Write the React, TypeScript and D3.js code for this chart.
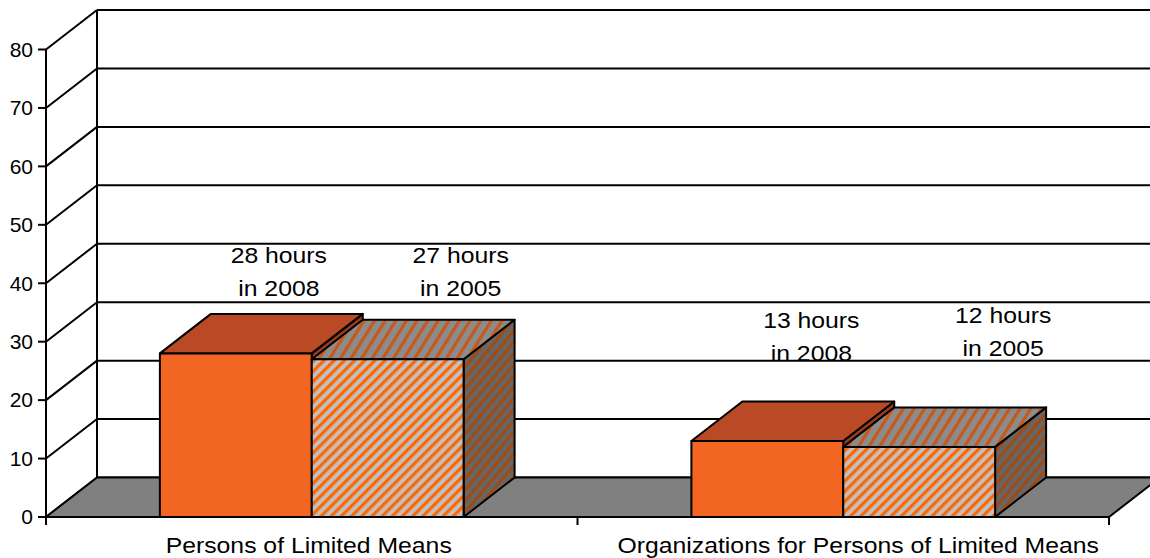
import * as d3 from 'd3'

// chart values
const categories = ['Persons of Limited Means', 'Organizations for Persons of Limited Means']
const seriesNames = ['2008', '2005']
const hours2008 = [28, 13]
const hours2005 = [27, 12]
const yTicks = [0, 10, 20, 30, 40, 50, 60, 70, 80]

// label nudges (Excel puts the 3D labels a bit off the bar centre)
const labelNudge = [
  [43, -90],
  [73, -96],
  [44, -113],
  [84, -124]
]
const catNudge = [-3, 15]

const W = 1150
const H = 558
const DX = 51
const DZ = 39.5
const FONT = 'Liberation Sans, Arial, sans-serif'
const STRETCH = 1.1

export default function App() {
  const x = d3.scaleBand<string>().domain(categories).range([46, 1109])
  const xs = d3.scaleBand<string>().domain(seriesNames).range([0, x.bandwidth()]).paddingOuter(0.75)
  const y = d3.scaleLinear().domain([0, 80]).range([517, 49.5])
  const bw = xs.bandwidth()
  const y0 = y(0)
  const left = x.range()[0]
  const right = x.range()[1]

  const bars = categories.flatMap((c, ci) =>
    seriesNames.map((s, si) => {
      const v = si === 0 ? hours2008[ci] : hours2005[ci]
      const x0 = (x(c) ?? 0) + (xs(s) ?? 0)
      return { c, s, v, x0, x1: x0 + bw, yt: y(v), idx: ci * 2 + si }
    })
  )

  const pt = (a: number, b: number) => `${a},${b}`

  return (
    <svg width={W} height={H} style={{ position: 'absolute', left: 0, top: 0, background: '#fff' }}>
      <defs>
        <pattern id="hFront" width="7.2" height="7.2" patternUnits="userSpaceOnUse" patternTransform="rotate(45)">
          <rect width="7.2" height="7.2" fill="#c0c0c0" />
          <rect width="3.2" height="7.2" fill="#ff6600" />
        </pattern>
        <pattern id="hTop" width="9" height="9" patternUnits="userSpaceOnUse" patternTransform="rotate(32)">
          <rect width="9" height="9" fill="#8c8c8c" />
          <rect width="3.2" height="9" fill="#c8581a" />
        </pattern>
        <pattern id="hSide" width="7.2" height="7.2" patternUnits="userSpaceOnUse" patternTransform="rotate(40)">
          <rect width="7.2" height="7.2" fill="#666666" />
          <rect width="3" height="7.2" fill="#a04a12" />
        </pattern>
      </defs>

      {/* walls + gridlines */}
      <g stroke="#000" strokeWidth={2} fill="none">
        {yTicks.map(t => (
          <g key={t}>
            <line x1={left} y1={y(t)} x2={left + DX} y2={y(t) - DZ} />
            <line x1={left + DX} y1={y(t) - DZ} x2={W + 5} y2={y(t) - DZ} />
          </g>
        ))}
        <line x1={left + DX} y1={y(80) - DZ} x2={left + DX} y2={y0 - DZ} />
      </g>

      {/* floor */}
      <polygon
        points={[pt(left, y0), pt(right, y0), pt(right + DX, y0 - DZ), pt(left + DX, y0 - DZ)].join(' ')}
        fill="#808080"
        stroke="#000"
        strokeWidth={2}
        strokeLinejoin="round"
      />

      {/* bars */}
      {bars.map(b => {
        const hatch = b.s === '2005'
        return (
          <g key={b.idx} stroke="#000" strokeWidth={2} strokeLinejoin="round">
            <polygon
              points={[pt(b.x1, b.yt), pt(b.x1 + DX, b.yt - DZ), pt(b.x1 + DX, y0 - DZ), pt(b.x1, y0)].join(' ')}
              fill={hatch ? 'url(#hSide)' : '#9a3c1c'}
            />
            <polygon
              points={[pt(b.x0, b.yt), pt(b.x1, b.yt), pt(b.x1 + DX, b.yt - DZ), pt(b.x0 + DX, b.yt - DZ)].join(' ')}
              fill={hatch ? 'url(#hTop)' : '#b94a25'}
            />
            <rect x={b.x0} y={b.yt} width={bw} height={y0 - b.yt} fill={hatch ? 'url(#hFront)' : '#f26522'} />
          </g>
        )
      })}

      {/* front value axis */}
      <g stroke="#000" strokeWidth={2}>
        <line x1={left} y1={y(80)} x2={left} y2={y0} />
        {yTicks.map(t => (
          <line key={t} x1={left - 8} y1={y(t)} x2={left} y2={y(t)} />
        ))}
        <line x1={left} y1={y0} x2={right} y2={y0} />
        {[left, ...categories.map(c => (x(c) ?? 0) + x.bandwidth())].map((tx, i) => (
          <line key={i} x1={tx} y1={y0} x2={tx} y2={y0 + 8} />
        ))}
      </g>
      <g fontFamily={FONT} fontSize={21} fill="#000" textAnchor="end">
        {yTicks.map(t => (
          <text key={t} x={left - 13} y={y(t)} dy="0.35em">
            {t}
          </text>
        ))}
      </g>

      {/* value labels */}
      <g fontFamily={FONT} fontSize={22.5} fill="#000" textAnchor="middle">
        {bars.map(b => {
          const [ndx, ndy] = labelNudge[b.idx]
          const cx = (b.x0 + b.x1) / 2 + ndx
          const by = b.yt + ndy
          return (
            <g key={b.idx}>
              <text transform={`translate(${cx},${by}) scale(${STRETCH},1)`}>{b.v} hours</text>
              <text transform={`translate(${cx},${by + 33}) scale(${STRETCH},1)`}>in {b.s}</text>
            </g>
          )
        })}
      </g>

      {/* category labels */}
      <g fontFamily={FONT} fontSize={22.5} fill="#000" textAnchor="middle">
        {categories.map((c, i) => (
          <text
            key={c}
            transform={`translate(${(x(c) ?? 0) + x.bandwidth() / 2 + catNudge[i]},553) scale(${STRETCH},1)`}
          >
            {c}
          </text>
        ))}
      </g>
    </svg>
  )
}
